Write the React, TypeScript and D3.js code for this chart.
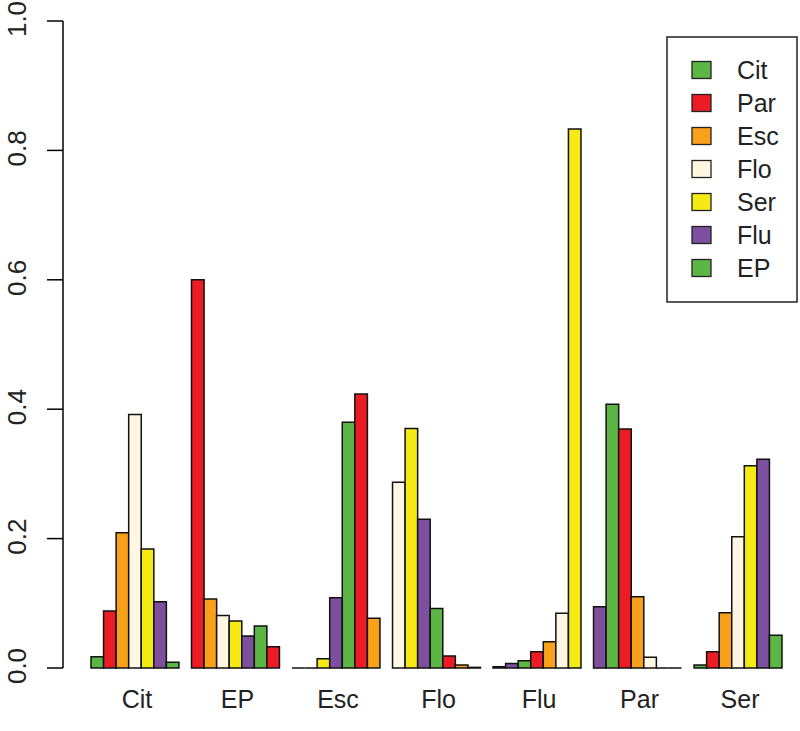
import React from "react";
import * as d3 from "d3";

const groups = ["Cit", "EP", "Esc", "Flo", "Flu", "Par", "Ser"];
const cit = [0.0175, 0.088, 0.209, 0.392, 0.184, 0.1025, 0.0088];
const ep = [0.6, 0.1066, 0.081, 0.0726, 0.0495, 0.065, 0.033];
const esc = [0, 0, 0.0144, 0.1087, 0.38, 0.4235, 0.0768];
const flo = [0.287, 0.37, 0.23, 0.092, 0.0185, 0.0046, 0.001];
const flu = [0.002, 0.007, 0.0113, 0.025, 0.0407, 0.0845, 0.833];
const par = [0.0948, 0.4075, 0.3694, 0.11, 0.0165, 0, 0];
const ser = [0.0046, 0.025, 0.0855, 0.203, 0.3127, 0.3225, 0.0505];
const seriesValues = [cit, ep, esc, flo, flu, par, ser];

const palette = ["#5CB646", "#EC1C24", "#F9A11B", "#FFF7E1", "#F5EA14", "#7E4E9F"];
const legendLabels = ["Cit", "Par", "Esc", "Flo", "Ser", "Flu", "EP"];
const legendColors = ["#5CB646", "#EC1C24", "#F9A11B", "#FFF7E1", "#F5EA14", "#7E4E9F", "#5CB646"];
const yTicks = [0, 0.2, 0.4, 0.6, 0.8, 1.0];

export default function App() {
  const W = 800, H = 731;
  const nBars = 7;
  const totalUnits = groups.length * nBars + (groups.length - 1);
  const x = d3.scaleLinear().domain([0, totalUnits]).range([91, 782]);
  const y = d3.scaleLinear().domain([0, 1]).range([668, 21]);
  const font = "'Liberation Sans', Arial, Helvetica, sans-serif";

  const bars: { d: string; fill: string; key: string }[] = [];
  seriesValues.forEach((vals, g) => {
    vals.forEach((v, i) => {
      const u = g * (nBars + 1) + i;
      const x0 = x(u), x1 = x(u + 1);
      const y0 = y(0), y1 = y(v);
      const p = d3.path();
      p.moveTo(x0, y0);
      p.lineTo(x0, y1);
      p.lineTo(x1, y1);
      p.lineTo(x1, y0);
      p.closePath();
      bars.push({ d: p.toString(), fill: palette[(g * nBars + i) % palette.length], key: `${g}-${i}` });
    });
  });

  return (
    <svg width={W} height={H} style={{ position: "absolute", left: 0, top: 0, background: "#fff" }} fontFamily={font}>
      <rect x={0} y={0} width={W} height={H} fill="#fff" />
      {/* y axis */}
      <line x1={63} x2={63} y1={y(0)} y2={y(1)} stroke="#000" strokeWidth={1.5} />
      {yTicks.map((t) => (
        <g key={t}>
          <line x1={47} x2={63} y1={y(t)} y2={y(t)} stroke="#000" strokeWidth={1.5} />
          <text
            transform={`translate(${26},${y(t) - 2}) rotate(-90)`}
            textAnchor="middle"
            fontSize={26}
            fill="#222"
          >
            {t.toFixed(1)}
          </text>
        </g>
      ))}
      {/* bars */}
      {bars.map((b) => (
        <path key={b.key} d={b.d} fill={b.fill} stroke="#111" strokeWidth={1.5} />
      ))}
      {/* group labels */}
      {groups.map((g, gi) => (
        <text
          key={g}
          x={x(gi * (nBars + 1) + nBars / 2) + 2}
          y={708}
          textAnchor="middle"
          fontSize={25}
          fill="#222"
        >
          {g}
        </text>
      ))}
      {/* legend */}
      <rect x={667} y={37} width={130} height={265} fill="#fff" stroke="#222" strokeWidth={1.5} />
      {legendLabels.map((l, i) => (
        <g key={i} transform={`translate(0,${70 + i * 33})`}>
          <rect x={692} y={-8.5} width={19} height={17} fill={legendColors[i]} stroke="#222" strokeWidth={1.3} />
          <text x={737} y={0} dy="0.36em" fontSize={25} fill="#222">
            {l}
          </text>
        </g>
      ))}
    </svg>
  );
}
